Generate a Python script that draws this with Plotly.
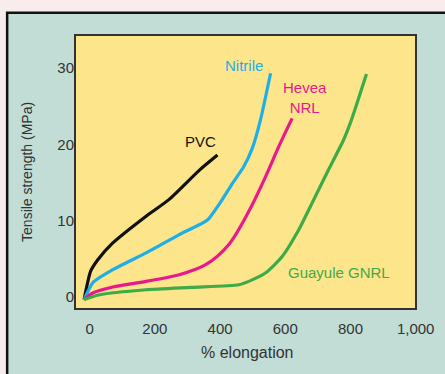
import plotly.graph_objects as go

# Data
pvc_x = [-17, 3, 25, 71, 173, 244, 336, 392]
pvc_y = [-0.3, 3.4, 4.9, 7.1, 10.6, 12.8, 16.6, 18.6]

nitrile_x = [-17, 10, 71, 173, 275, 361, 407, 438, 473, 499, 524, 555]
nitrile_y = [-0.3, 1.9, 3.6, 5.8, 8.2, 10.1, 12.8, 14.9, 17.1, 19.5, 23.2, 29.3]

hevea_x = [-17, 10, 71, 173, 275, 356, 427, 489, 540, 580, 621]
hevea_y = [-0.3, 0.55, 1.33, 2.07, 2.94, 4.25, 6.9, 11.3, 15.8, 19.7, 23.4]

guayule_x = [-17, 31, 173, 313, 458, 500, 540, 590, 641, 682, 733, 779, 803, 849]
guayule_y = [-0.3, 0.33, 0.98, 1.3, 1.63, 2.3, 3.2, 5.3, 8.8, 12.3, 16.7, 20.6, 23.2, 29.2]

x_ticks = [0, 200, 400, 600, 800, 1000]
x_tick_labels = ["0", "200", "400", "600", "800", "1,000"]
y_ticks = [0, 10, 20, 30]

BLACK = "#111111"
BLUE = "#1eaee8"
PINK = "#e8198b"
GREEN = "#3dab48"
TXT = "#333333"
FONT = "Liberation Sans, Arial, sans-serif"

fig = go.Figure()
for xs, ys, c, sm in [(pvc_x, pvc_y, BLACK, 0.6), (nitrile_x, nitrile_y, BLUE, 0.5),
                      (hevea_x, hevea_y, PINK, 0.9), (guayule_x, guayule_y, GREEN, 0.6)]:
    fig.add_trace(go.Scatter(x=xs, y=ys, mode="lines",
                             line=dict(color=c, width=3.2, shape="spline", smoothing=sm),
                             showlegend=False, hoverinfo="skip"))

annots = [
    dict(x=341, y=20.4, text="PVC", color=BLACK),
    dict(x=472, y=30.3, text="Nitrile", color=BLUE),
    dict(x=662, y=26.1, text="Hevea<br>NRL", color=PINK),
    dict(x=766, y=3.24, text="Guayule GNRL", color=GREEN),
]
for a in annots:
    fig.add_annotation(x=a["x"], y=a["y"], text=a["text"], showarrow=False,
                       font=dict(family=FONT, size=15, color=a["color"]),
                       xanchor="center", yanchor="middle")

# axis titles
fig.add_annotation(xref="paper", yref="paper", x=0.507, y=-0.157, text="% elongation",
                   showarrow=False, xanchor="center", yanchor="middle",
                   font=dict(family=FONT, size=16, color=TXT))
fig.add_annotation(xref="paper", yref="paper", x=-0.141, y=0.5, text="Tensile strength (MPa)",
                   showarrow=False, xanchor="center", yanchor="middle", textangle=-90,
                   font=dict(family=FONT, size=14, color=TXT))

shapes = [
    dict(type="rect", xref="paper", yref="paper", x0=-0.199, x1=1.2, y0=-0.3, y1=1.081,
         fillcolor="#c1ddd6", line=dict(color="#111111", width=2.5), layer="below"),
    dict(type="rect", xref="paper", yref="paper", x0=0, x1=1, y0=0, y1=1,
         fillcolor="#fde58b", line=dict(color="#333333", width=2), layer="below"),
]

fig.update_layout(
    width=445, height=374,
    margin=dict(l=75, r=29, t=35, b=65),
    paper_bgcolor="#f8ecec",
    plot_bgcolor="#fde58b",
    shapes=shapes,
    font=dict(family=FONT, size=15, color=TXT),
    xaxis=dict(range=[-45, 1001], tickvals=x_ticks, ticktext=x_tick_labels,
               showgrid=False, zeroline=False, showline=False, automargin=False,
               ticks="outside", ticklen=6, tickcolor="rgba(0,0,0,0)",
               tickfont=dict(size=15, color=TXT)),
    yaxis=dict(range=[-1.54, 34.3], tickvals=y_ticks,
               showgrid=False, zeroline=False, showline=False, automargin=False,
               ticks="", tickfont=dict(size=15, color=TXT)),
)

fig.write_html("out.html", config={"displayModeBar": False},
               post_script="document.body.style.margin='0px';document.body.style.overflow='hidden';")
